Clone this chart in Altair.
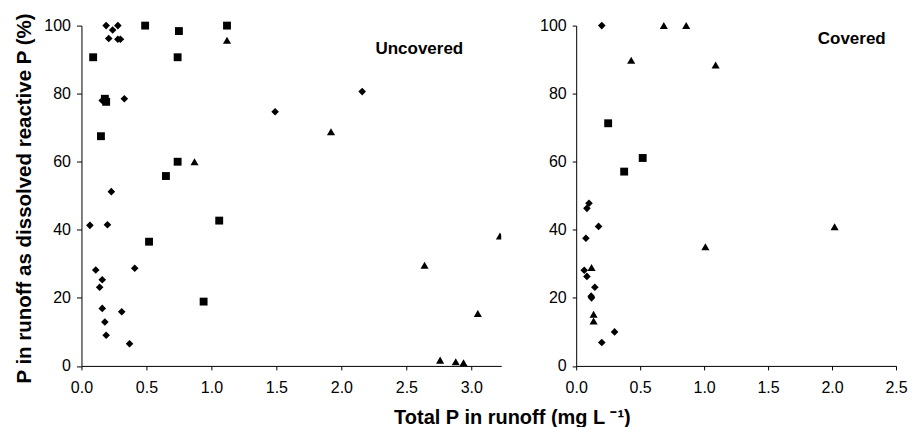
import altair as alt
import pandas as pd

# ---------------- data ----------------
# Uncovered panel
unc_diamond_x = [0.19, 0.28, 0.24, 0.21, 0.28, 0.30, 0.33, 0.16, 1.49, 2.16,
                 0.23, 0.065, 0.20, 0.11, 0.41, 0.16, 0.14, 0.16, 0.31, 0.18, 0.19, 0.37]
unc_diamond_y = [100, 100, 98.7, 96.2, 96, 96, 78.5, 78, 74.7, 80.6,
                 51.2, 41.3, 41.5, 28.2, 28.7, 25.3, 23.1, 16.9, 15.9, 12.9, 9.0, 6.5]
unc_square_x = [0.09, 0.49, 0.75, 0.74, 1.12, 0.18, 0.19, 0.15, 0.74, 0.65, 0.52, 1.06, 0.94]
unc_square_y = [90.7, 100, 98.4, 90.7, 100, 78.5, 77.6, 67.5, 60, 55.8, 36.5, 42.7, 18.9]
unc_tri_x = [1.12, 0.87, 1.92, 2.64, 3.05, 2.76, 2.88, 2.94]
unc_tri_y = [95.7, 60, 68.8, 29.6, 15.4, 1.7, 1.2, 0.9]
unc_tri_edge_x = [3.22]   # partly cut by the panel edge
unc_tri_edge_y = [38.2]

# Covered panel
cov_diamond_x = [0.20, 0.10, 0.084, 0.175, 0.076, 0.063, 0.084, 0.146, 0.117, 0.12, 0.30, 0.20]
cov_diamond_y = [100, 47.8, 46.3, 41, 37.5, 28.1, 26.3, 23.1, 20.5, 20.0, 10, 6.9]
cov_square_x = [0.25, 0.375, 0.52]
cov_square_y = [71.3, 57.1, 61.1]
cov_tri_x = [0.685, 0.86, 0.43, 1.09, 1.01, 0.12, 0.136, 0.136, 2.02]
cov_tri_y = [100, 100, 89.8, 88.4, 35, 28.9, 15.2, 13.2, 40.9]

# axis ticks
y_ticks = [0, 20, 40, 60, 80, 100]
unc_x_ticks = [0.0, 0.5, 1.0, 1.5, 2.0, 2.5, 3.0]
cov_x_ticks = [0.0, 0.5, 1.0, 1.5, 2.0, 2.5]
unc_x_max = 3.23
cov_x_max = 2.5

# panel labels
unc_label = ["Uncovered"]
unc_label_x = [2.60]
unc_label_y = [93.1]
cov_label = ["Covered"]
cov_label_x = [2.154]
cov_label_y = [96.0]

x_title = "Total P in runoff (mg L \u207b\u00b9)"
y_title = "P in runoff as dissolved reactive P (%)"

# ---------------- build ----------------
FONT = "Liberation Sans"


def frame(xs, ys, series):
    return pd.DataFrame({"tp": xs, "drp": ys, "series": [series] * len(xs)})


series_names = ["diamond", "square", "triangle"]
shape_scale = alt.Scale(domain=series_names, range=["diamond", "square", "triangle-up"])
size_scale = alt.Scale(domain=series_names, range=[58, 66, 66])

common_axis = dict(grid=False, domainColor="black", tickColor="black",
                   labelColor="black", titleColor="black", labelFont=FONT,
                   labelFontSize=16, domainWidth=1, tickWidth=1)


def panel(df, df_edge, labels, lx, ly, xmax, xticks, width, first):
    if first:
        x_axis = alt.Axis(values=xticks, format=".1f", labelFlush=False,
                          tickSize=4, labelPadding=10,
                          title=x_title, titleX=430.7, titleY=58,
                          titleAlign="center", titleBaseline="alphabetic",
                          titleFont=FONT, titleFontSize=20, titleFontWeight="bold",
                          **common_axis)
        y_axis = alt.Axis(values=y_ticks, format="d", tickSize=5, labelPadding=6,
                          title=y_title, titleAngle=270, titleX=-50.6, titleY=172.5,
                          titleAlign="center", titleBaseline="alphabetic",
                          titleFont=FONT, titleFontSize=20.5,
                          titleFontWeight="bold", **common_axis)
    else:
        x_axis = alt.Axis(values=xticks, format=".1f", labelFlush=False,
                          tickSize=4, labelPadding=10, title=None, **common_axis)
        y_axis = alt.Axis(values=y_ticks, format="d", tickSize=4, labelPadding=6,
                          title=None, **common_axis)

    x_enc = alt.X("tp:Q", scale=alt.Scale(domain=[0, xmax], nice=False, zero=True),
                  axis=x_axis)
    y_enc = alt.Y("drp:Q", scale=alt.Scale(domain=[0, 100], nice=False), axis=y_axis)
    shp = alt.Shape("series:N", scale=shape_scale, legend=None)
    siz = alt.Size("series:N", scale=size_scale, legend=None)

    layers = [
        alt.Chart(df).mark_point(filled=True, color="black", opacity=1,
                                 strokeWidth=0).encode(x=x_enc, y=y_enc, shape=shp, size=siz)
    ]
    if df_edge is not None:
        layers.append(
            alt.Chart(df_edge).mark_point(filled=True, color="black", opacity=1,
                                          strokeWidth=0, clip=True)
            .encode(x=x_enc, y=y_enc, shape=shp, size=siz))
    lab = pd.DataFrame({"tp": lx, "drp": ly, "label": labels})
    layers.append(
        alt.Chart(lab).mark_text(font=FONT, fontSize=17, fontWeight="bold",
                                 color="black", align="center", baseline="middle")
        .encode(x=x_enc, y=y_enc, text="label:N"))
    return alt.layer(*layers).properties(width=width, height=340.5)


unc_df = pd.concat([frame(unc_diamond_x, unc_diamond_y, "diamond"),
                    frame(unc_square_x, unc_square_y, "square"),
                    frame(unc_tri_x, unc_tri_y, "triangle")], ignore_index=True)
unc_edge = frame(unc_tri_edge_x, unc_tri_edge_y, "triangle")
cov_df = pd.concat([frame(cov_diamond_x, cov_diamond_y, "diamond"),
                    frame(cov_square_x, cov_square_y, "square"),
                    frame(cov_tri_x, cov_tri_y, "triangle")], ignore_index=True)

left = panel(unc_df, unc_edge, unc_label, unc_label_x, unc_label_y,
             unc_x_max, unc_x_ticks, 420, True)
right = panel(cov_df, None, cov_label, cov_label_x, cov_label_y,
              cov_x_max, cov_x_ticks, 320, False)

chart = (
    alt.hconcat(left, right, spacing=75, bounds="flush")
    .resolve_scale(x="independent", y="independent", shape="shared", size="shared")
    .properties(padding={"left": 14.5, "top": 11.5, "right": 8, "bottom": 0},
                background="white")
    .configure_view(stroke=None)
)

chart.save("out.html", embed_options={"renderer": "svg", "actions": False})
